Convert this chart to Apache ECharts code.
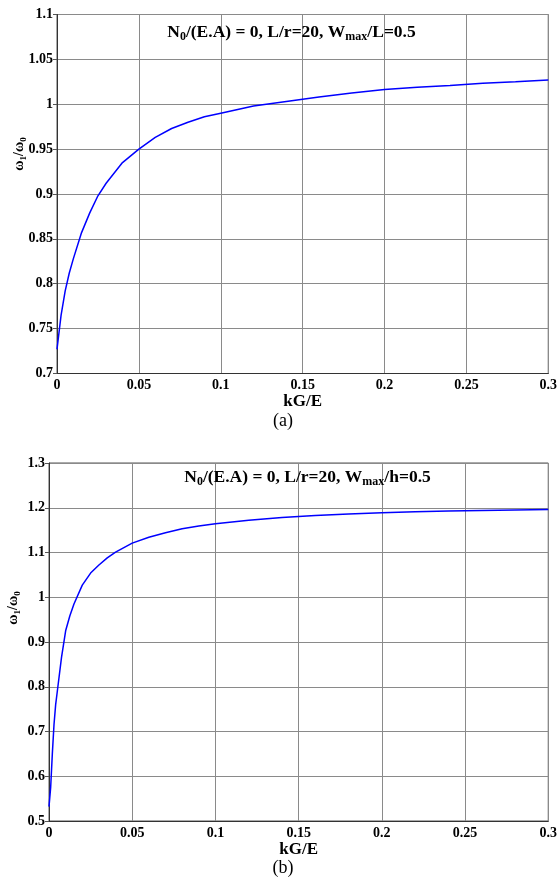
<!DOCTYPE html>
<html><head><meta charset="utf-8">
<script src="https://cdn.jsdelivr.net/npm/echarts@6/dist/echarts.min.js"></script>
<style>html,body{margin:0;padding:0;background:#fff}#c{width:560px;height:888px}</style>
</head><body><div id="c"></div>
<script>
// ---- data: chart (a) ----
const kgeA = [0, 0.0025, 0.005, 0.0075, 0.01, 0.015, 0.02, 0.025, 0.03, 0.04, 0.05, 0.06, 0.07, 0.08, 0.09, 0.1, 0.12, 0.14, 0.16, 0.18, 0.2, 0.22, 0.24, 0.26, 0.28, 0.3];
const omegaA = [0.727, 0.765, 0.792, 0.812, 0.828, 0.857, 0.879, 0.898, 0.912, 0.935, 0.950, 0.963, 0.973, 0.980, 0.986, 0.990, 0.998, 1.003, 1.008, 1.0125, 1.0165, 1.019, 1.021, 1.0235, 1.025, 1.027];
// ---- data: chart (b) ----
const kgeB = [0, 0.001, 0.002, 0.003, 0.004, 0.005, 0.0075, 0.01, 0.0125, 0.015, 0.02, 0.025, 0.03, 0.035, 0.04, 0.05, 0.06, 0.07, 0.08, 0.09, 0.1, 0.12, 0.14, 0.16, 0.18, 0.2, 0.22, 0.24, 0.26, 0.28, 0.3];
const omegaB = [0.532, 0.575, 0.650, 0.715, 0.760, 0.790, 0.865, 0.925, 0.958, 0.985, 1.027, 1.054, 1.072, 1.088, 1.101, 1.121, 1.134, 1.144, 1.153, 1.159, 1.1645, 1.172, 1.178, 1.1825, 1.186, 1.189, 1.191, 1.193, 1.194, 1.195, 1.196];
// ---- axis ranges / texts ----
const xRange = [0, 0.3, 0.05];
const yRangeA = [0.7, 1.1, 0.05];
const yRangeB = [0.5, 1.3, 0.1];
const xName = 'kG/E';
const titleA = ['N', '0', '/(E.A) = 0, L/r=20, W', 'max', '/L=0.5'];
const titleB = ['N', '0', '/(E.A) = 0, L/r=20, W', 'max', '/h=0.5'];
const captions = ['(a)', '(b)'];

const FONT = '"Liberation Serif", "Times New Roman", serif';
const chart = echarts.init(document.getElementById('c'), null, {renderer: 'canvas'});

function pairs(xs, ys) { return xs.map((x, i) => [x, ys[i]]); }
function titleRich(parts) {
  return '{n|' + parts[0] + '}{s|' + parts[1] + '}{n|' + parts[2] + '}{s|' + parts[3] + '}{n|' + parts[4] + '}';
}
const richT = {
  n: {fontFamily: FONT, fontWeight: 'bold', fontSize: 17.5, lineHeight: 22, verticalAlign: 'middle', fill: '#000'},
  s: {fontFamily: FONT, fontWeight: 'bold', fontSize: 12, lineHeight: 12, verticalAlign: 'bottom', fill: '#000'}
};
const richY = {
  n: {fontFamily: FONT, fontWeight: 'bold', fontSize: 14, lineHeight: 18, verticalAlign: 'middle', fill: '#000'},
  s: {fontFamily: FONT, fontWeight: 'bold', fontSize: 9, lineHeight: 9, verticalAlign: 'bottom', fill: '#000'}
};

const grids = [
  {left: 57, top: 14.5, width: 492, height: 359, show: true, borderColor: '#555', borderWidth: 1, backgroundColor: '#fff'},
  {left: 49, top: 463, width: 499.5, height: 358, show: true, borderColor: '#555', borderWidth: 1, backgroundColor: '#fff'}
];

function xAxis(gi) {
  return {
    type: 'value', gridIndex: gi, min: xRange[0], max: xRange[1], interval: xRange[2],
    name: xName, nameLocation: 'middle', nameGap: 14,
    nameTextStyle: {fontFamily: FONT, fontWeight: 'bold', fontSize: 17, color: '#000', verticalAlign: 'top'},
    axisLine: {show: true, onZero: false, lineStyle: {color: '#333', width: 1}},
    axisTick: {show: false},
    axisLabel: {fontFamily: FONT, fontWeight: 'bold', fontSize: 14, color: '#000', margin: 5},
    splitLine: {show: true, lineStyle: {color: '#8a8a8a', width: 1}}
  };
}
function yAxisL(gi, r) {
  return {
    type: 'value', gridIndex: gi, min: r[0], max: r[1], interval: r[2], position: 'left',
    axisLine: {show: true, onZero: false, lineStyle: {color: '#333', width: 1}},
    axisTick: {show: false},
    axisLabel: {fontFamily: FONT, fontWeight: 'bold', fontSize: 14, color: '#000', margin: 4},
    splitLine: {show: true, lineStyle: {color: '#8a8a8a', width: 1}}
  };
}
function yAxisR(gi, r) {
  return {
    type: 'value', gridIndex: gi, min: r[0], max: r[1], interval: r[2], position: 'right',
    axisLine: {show: false},
    axisTick: {show: true, inside: true, length: 4, lineStyle: {color: '#555'}},
    axisLabel: {show: false},
    splitLine: {show: false}
  };
}

const option = {
  animation: false,
  backgroundColor: '#fff',
  grid: grids,
  xAxis: [xAxis(0), xAxis(1)],
  yAxis: [yAxisL(0, yRangeA), yAxisR(0, yRangeA), yAxisL(1, yRangeB), yAxisR(1, yRangeB)],
  series: [
    {type: 'line', xAxisIndex: 0, yAxisIndex: 0, data: pairs(kgeA, omegaA), showSymbol: false, symbol: 'none',
     lineStyle: {color: '#0000ff', width: 1.5}, z: 5},
    {type: 'line', xAxisIndex: 1, yAxisIndex: 2, data: pairs(kgeB, omegaB), showSymbol: false, symbol: 'none',
     lineStyle: {color: '#0000ff', width: 1.5}, z: 5}
  ],
  graphic: [
    {type: 'text', x: 291.5, y: 32, z: 10, style: {text: titleRich(titleA), rich: richT, align: 'center', verticalAlign: 'middle'}},
    {type: 'text', x: 307.5, y: 477, z: 10, style: {text: titleRich(titleB), rich: richT, align: 'center', verticalAlign: 'middle'}},
    {type: 'text', x: 19, y: 154, rotation: Math.PI / 2, z: 10,
     style: {text: '{n|ω}{s|1}{n|/ω}{s|0}', rich: richY, align: 'center', verticalAlign: 'middle'}},
    {type: 'text', x: 13, y: 608, rotation: Math.PI / 2, z: 10,
     style: {text: '{n|ω}{s|1}{n|/ω}{s|0}', rich: richY, align: 'center', verticalAlign: 'middle'}},
    {type: 'text', x: 283, y: 421, z: 10, style: {text: captions[0], fontFamily: FONT, fontSize: 18, fill: '#000', align: 'center', verticalAlign: 'middle'}},
    {type: 'text', x: 283, y: 868, z: 10, style: {text: captions[1], fontFamily: FONT, fontSize: 18, fill: '#000', align: 'center', verticalAlign: 'middle'}}
  ]
};
chart.setOption(option);
</script>
</body></html>
